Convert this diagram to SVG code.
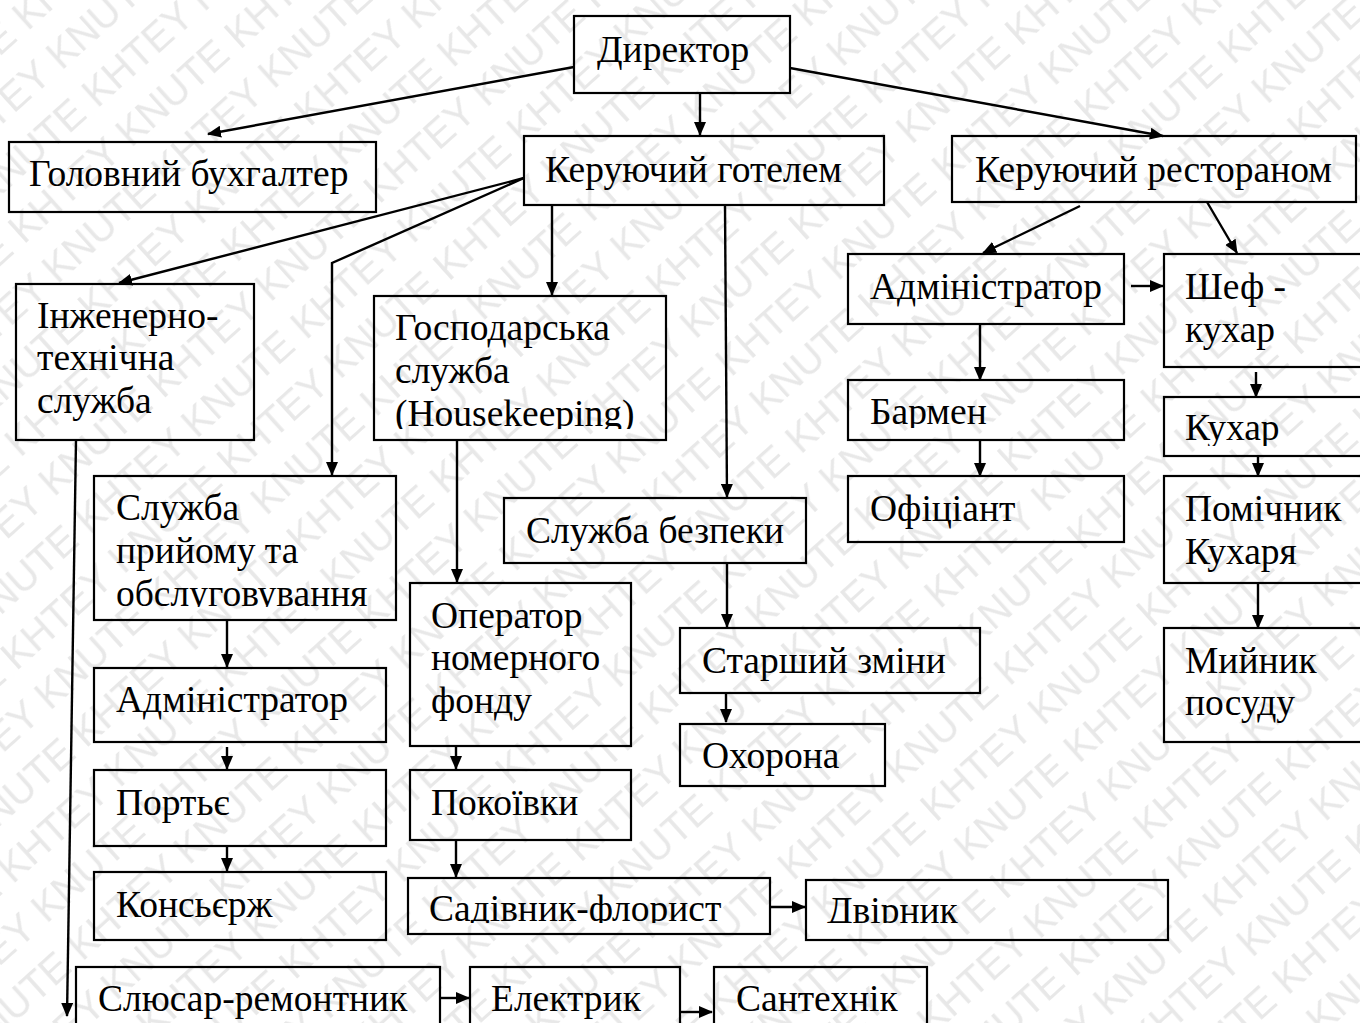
<svg xmlns="http://www.w3.org/2000/svg" width="1360" height="1023" viewBox="0 0 1360 1023">
<style>
.box{fill:none;stroke:#000;stroke-width:2.2}
.t{font-family:"Liberation Serif","Times New Roman",serif;font-size:37.5px;fill:#000}
.c{stroke:#000;stroke-width:2.4;fill:none;marker-end:url(#ah)}
.wm{font-family:"Liberation Sans",Arial,sans-serif;font-size:40px;fill:#e8e8e8}
</style>
<defs>
<marker id="ah" markerUnits="userSpaceOnUse" markerWidth="14" markerHeight="12" refX="13" refY="6" orient="auto">
<path d="M0,0 L14,6 L0,12 z" fill="#000"/>
</marker>
<pattern id="wmp" patternUnits="userSpaceOnUse" width="291" height="104" patternTransform="rotate(-42)">
<text class="wm" x="-291" y="42">KHTEY KNUTE KHTEY KNUTE KHTEY KNUTE</text>
<text class="wm" x="-436" y="94">KHTEY KNUTE KHTEY KNUTE KHTEY KNUTE</text>
</pattern>
<clipPath id="cpHk"><rect x="374" y="296" width="292" height="133"/></clipPath>
<clipPath id="cpOb"><rect x="94" y="476" width="302" height="131"/></clipPath>
<clipPath id="cpSad"><rect x="408" y="878" width="362" height="45"/></clipPath>
<clipPath id="cpDv"><rect x="806" y="880" width="362" height="43"/></clipPath>
<clipPath id="cpBar"><rect x="848" y="380" width="276" height="48"/></clipPath>
<clipPath id="cpKuh"><rect x="1164" y="397" width="200" height="49"/></clipPath>
</defs>
<rect width="1360" height="1023" fill="#fff"/>
<rect width="1360" height="1023" fill="url(#wmp)"/>

<g id="connectors">
<line class="c" x1="574" y1="67" x2="208" y2="134"/>
<line class="c" x1="700" y1="93" x2="700" y2="135"/>
<line class="c" x1="790" y1="68" x2="1163" y2="136"/>
<line class="c" x1="524" y1="178" x2="119" y2="283"/>
<polyline class="c" points="524,178 332,263 332,475"/>
<line class="c" x1="552" y1="205" x2="552" y2="295"/>
<line class="c" x1="725" y1="205" x2="727" y2="497"/>
<line class="c" x1="1080" y1="206" x2="983" y2="253"/>
<line class="c" x1="1207" y1="202" x2="1237" y2="253"/>
<line class="c" x1="1131" y1="286" x2="1163" y2="286"/>
<line class="c" x1="980" y1="324" x2="980" y2="380"/>
<line class="c" x1="980" y1="440" x2="980" y2="476"/>
<line class="c" x1="1256" y1="372" x2="1256" y2="397"/>
<line class="c" x1="1258" y1="456" x2="1258" y2="476"/>
<line class="c" x1="1258" y1="583" x2="1258" y2="628"/>
<line class="c" x1="76" y1="440" x2="67" y2="1016"/>
<line class="c" x1="227" y1="620" x2="227" y2="667"/>
<line class="c" x1="227" y1="747" x2="227" y2="769"/>
<line class="c" x1="227" y1="846" x2="227" y2="871"/>
<line class="c" x1="457" y1="440" x2="457" y2="582"/>
<line class="c" x1="456" y1="746" x2="456" y2="769"/>
<line class="c" x1="456" y1="840" x2="456" y2="877"/>
<line class="c" x1="770" y1="907" x2="805" y2="907"/>
<line class="c" x1="727" y1="563" x2="727" y2="627"/>
<line class="c" x1="726" y1="693" x2="726" y2="722"/>
<line class="c" x1="440" y1="998" x2="469" y2="998"/>
<line class="c" x1="680" y1="1012" x2="712" y2="1012"/>
</g>

<g id="director"><rect class="box" x="574" y="16" width="216" height="77"/><text class="t" x="597" y="62">Директор</text></g>
<g id="chief-accountant"><rect class="box" x="9" y="142" width="367" height="70"/><text class="t" x="29" y="186">Головний бухгалтер</text></g>
<g id="hotel-manager"><rect class="box" x="524" y="136" width="360" height="69"/><text class="t" x="545" y="182">Керуючий готелем</text></g>
<g id="restaurant-manager"><rect class="box" x="952" y="136" width="404" height="66"/><text class="t" x="975" y="182">Керуючий рестораном</text></g>

<g id="engineering"><rect class="box" x="16" y="284" width="238" height="156"/><text class="t" x="37" y="328">Інженерно-</text><text class="t" x="37" y="370">технічна</text><text class="t" x="37" y="413">служба</text></g>
<g id="housekeeping"><rect class="box" x="374" y="296" width="292" height="144"/><g clip-path="url(#cpHk)"><text class="t" x="395" y="340">Господарська</text><text class="t" x="395" y="383">служба</text><text class="t" x="395" y="426">(Housekeeping)</text></g></g>
<g id="front-office"><rect class="box" x="94" y="476" width="302" height="144"/><g clip-path="url(#cpOb)"><text class="t" x="116" y="520">Служба</text><text class="t" x="116" y="563">прийому та</text><text class="t" x="116" y="606">обслуговування</text></g></g>
<g id="security"><rect class="box" x="504" y="498" width="302" height="65"/><text class="t" x="526" y="543">Служба безпеки</text></g>

<g id="admin-hotel"><rect class="box" x="94" y="668" width="292" height="74"/><text class="t" x="116" y="712">Адміністратор</text></g>
<g id="porter"><rect class="box" x="94" y="770" width="292" height="76"/><text class="t" x="116" y="815">Портьє</text></g>
<g id="concierge"><rect class="box" x="94" y="872" width="292" height="68"/><text class="t" x="116" y="917">Консьєрж</text></g>

<g id="room-operator"><rect class="box" x="410" y="583" width="221" height="163"/><text class="t" x="431" y="628">Оператор</text><text class="t" x="431" y="670">номерного</text><text class="t" x="431" y="713">фонду</text></g>
<g id="maids"><rect class="box" x="410" y="770" width="221" height="70"/><text class="t" x="431" y="815">Покоївки</text></g>
<g id="gardener"><rect class="box" x="408" y="878" width="362" height="56"/><g clip-path="url(#cpSad)"><text class="t" x="429" y="921">Садівник-флорист</text></g></g>
<g id="janitor"><rect class="box" x="806" y="880" width="362" height="60"/><g clip-path="url(#cpDv)"><text class="t" x="827" y="923">Двірник</text></g></g>

<g id="shift-senior"><rect class="box" x="680" y="628" width="300" height="65"/><text class="t" x="702" y="673">Старший зміни</text></g>
<g id="guard"><rect class="box" x="680" y="724" width="205" height="62"/><text class="t" x="702" y="768">Охорона</text></g>

<g id="locksmith"><rect class="box" x="76" y="967" width="364" height="70"/><text class="t" x="98" y="1011">Слюсар-ремонтник</text></g>
<g id="electrician"><rect class="box" x="470" y="967" width="210" height="70"/><text class="t" x="491" y="1011">Електрик</text></g>
<g id="plumber"><rect class="box" x="714" y="967" width="213" height="70"/><text class="t" x="736" y="1011">Сантехнік</text></g>

<g id="admin-restaurant"><rect class="box" x="848" y="254" width="276" height="70"/><text class="t" x="870" y="299">Адміністратор</text></g>
<g id="bartender"><rect class="box" x="848" y="380" width="276" height="60"/><g clip-path="url(#cpBar)"><text class="t" x="870" y="424">Бармен</text></g></g>
<g id="waiter"><rect class="box" x="848" y="476" width="276" height="66"/><text class="t" x="870" y="521">Офіціант</text></g>

<g id="chef"><rect class="box" x="1164" y="254" width="210" height="113"/><text class="t" x="1185" y="299">Шеф -</text><text class="t" x="1185" y="342">кухар</text></g>
<g id="cook"><rect class="box" x="1164" y="397" width="210" height="59"/><g clip-path="url(#cpKuh)"><text class="t" x="1185" y="440">Кухар</text></g></g>
<g id="cook-assistant"><rect class="box" x="1164" y="476" width="210" height="107"/><text class="t" x="1185" y="521">Помічник</text><text class="t" x="1185" y="564">Кухаря</text></g>
<g id="dishwasher"><rect class="box" x="1164" y="628" width="210" height="114"/><text class="t" x="1185" y="673">Мийник</text><text class="t" x="1185" y="715">посуду</text></g>
</svg>
